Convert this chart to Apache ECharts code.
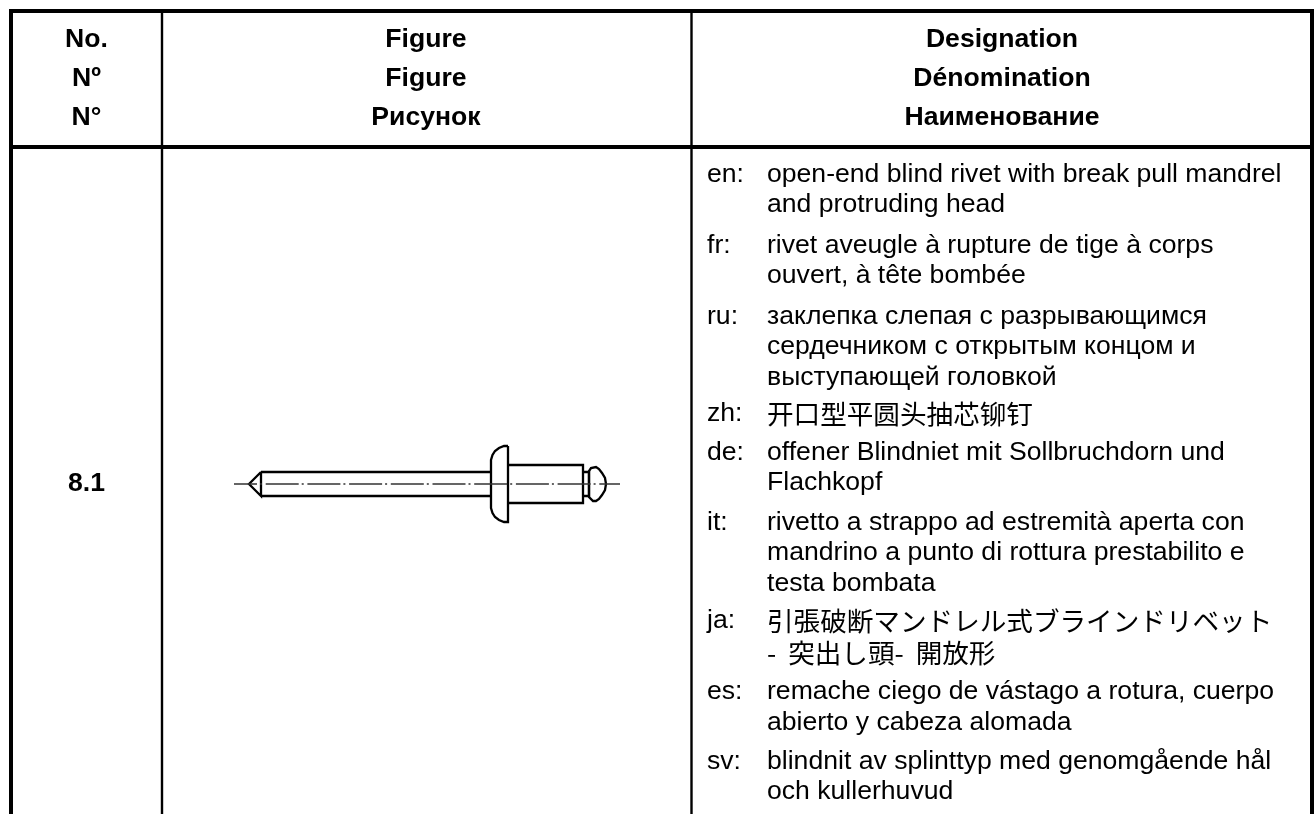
<!DOCTYPE html>
<html><head><meta charset="utf-8">
<style>html,body{margin:0;padding:0;background:#fff}#c{width:1315px;height:814px}</style>
<script src="https://cdn.jsdelivr.net/npm/echarts@6/dist/echarts.min.js"></script>
</head><body><div id="c"></div>
<script>
// ---- content ----
const colNo = ['No.', 'Nº', 'N°'];
const colFigure = ['Figure', 'Figure', 'Рисунок'];
const colDesignation = ['Designation', 'Dénomination', 'Наименование'];
const rowNumber = '8.1';
const langCodes = ['en:', 'fr:', 'ru:', 'zh:', 'de:', 'it:', 'ja:', 'es:', 'sv:'];
const langLines = [
  ['open-end blind rivet with break pull mandrel', 'and protruding head'],
  ['rivet aveugle à rupture de tige à corps', 'ouvert, à tête bombée'],
  ['заклепка слепая с разрывающимся', 'сердечником с открытым концом и', 'выступающей головкой'],
  ['开口型平圆头抽芯铆钉'],
  ['offener Blindniet mit Sollbruchdorn und', 'Flachkopf'],
  ['rivetto a strappo ad estremità aperta con', 'mandrino a punto di rottura prestabilito e', 'testa bombata'],
  ['引張破断マンドレル式ブラインドリベット', '-  突出し頭-  開放形'],
  ['remache ciego de vástago a rotura, cuerpo', 'abierto y cabeza alomada'],
  ['blindnit av splinttyp med genomgående hål', 'och kullerhuvud']
];
// ---- layout (page scale) ----
const langLineY = [[175,205],[246,276],[317,347,378],[414],[453,483],[523,553,584],[621,653],[692,723],[762,792]];
const headerY = [40,79,118];
const X = {left:11, c1:162, c2:691.5, right:1312, top:11, rule:147, bottom:814};
const rules = [
  [[X.left-2,X.top],[X.right+2,X.top]], [[X.left,X.rule],[X.right,X.rule]],
  [[X.left,X.top],[X.left,X.bottom]], [[X.c1,X.top],[X.c1,X.bottom]],
  [[X.c2,X.top],[X.c2,X.bottom]], [[X.right,X.top],[X.right,X.bottom]]
];
const ruleWidth = [4,4,4,2.4,2.4,4];
// rivet profile
const rivetTip = [[261,472],[249,484],[261,496],[261,472]];
const shaftTop = [[261,472],[491,472]];
const shaftBottom = [[261,496],[491,496]];
const headProfile = [[508,446],[504,446],[499,448],[495,451],[492.5,455],[491,460],[491,508],[492.5,513],[495,517],[499,520],[504,522],[508,522],[508,446]];
const bodyProfile = [[508,465],[583,465],[583,503],[508,503]];
const neckProfile = [[583,472],[589,472],[589,496],[583,496]];
const ballProfile = [[589,476],[589,471],[591,468],[593,467],[596,467],[599,469],[602,473],[605,478],[606,484],[605,490],[602,495],[599,499],[596,501],[593,501],[591,500],[589,497],[589,476]];
const centreLine = [[234,484],[620,484]];

const hdr = '700 26.6px "Liberation Sans", Arial, sans-serif';
const body = '26.6px "Liberation Sans", Arial, sans-serif';
const cjkFont = f => '26.6px "'+f+'", sans-serif';
const fontFor = (i,s) => /[\u3040-\u9fff]/.test(s) ? cjkFont(langCodes[i]==='zh:'?'Noto Sans CJK SC':'Noto Sans CJK JP') : body;

const texts = [];
headerY.forEach((y,i)=>{
  texts.push([86.5,y,colNo[i],hdr,'center']);
  texts.push([426,y,colFigure[i],hdr,'center']);
  texts.push([1002,y,colDesignation[i],hdr,'center']);
});
texts.push([86.5,484,rowNumber,hdr,'center']);
langCodes.forEach((c,i)=>{
  texts.push([707,langLineY[i][0],c,body,'left']);
  langLines[i].forEach((l,j)=>texts.push([767,langLineY[i][j],l,fontFor(i,l),'left']));
});

const solid = (name,data,w,color) => ({type:'line',name,data,symbol:'none',silent:true,animation:false,
  lineStyle:{color:color||'#000',width:w,cap:'butt',join:'miter'}});
const series = [];
rules.forEach((r,i)=>series.push(solid('rule'+i,r,ruleWidth[i])));
[['tip',rivetTip],['shaftTop',shaftTop],['shaftBottom',shaftBottom],['head',headProfile],['body',bodyProfile],['neck',neckProfile],['ball',ballProfile]]
  .forEach(([n,d])=>series.push(solid(n,d,2.3)));
const cl = solid('centre',centreLine,1.4,'#333');
cl.lineStyle.type=[33,3,2,3.7];cl.lineStyle.dashOffset=10;
series.push(cl);
series.push({type:'custom',name:'text',silent:true,animation:false,clip:false,data:texts,
  encode:{x:0,y:1},
  renderItem:(p,api)=>{
    const t=texts[p.dataIndex];
    const pt=api.coord([t[0],t[1]]);
    return {type:'text',style:{text:t[2],x:pt[0],y:pt[1],font:t[3],fill:'#000',align:t[4],verticalAlign:'middle'}};
  }});
const chart=echarts.init(document.getElementById('c'),null,{renderer:'canvas'});
chart.setOption({animation:false,backgroundColor:'#fff',
  grid:{left:0,right:0,top:0,bottom:0},
  xAxis:{type:'value',min:0,max:1315,show:false},
  yAxis:{type:'value',min:0,max:814,inverse:true,show:false},
  series});
</script></body></html>
